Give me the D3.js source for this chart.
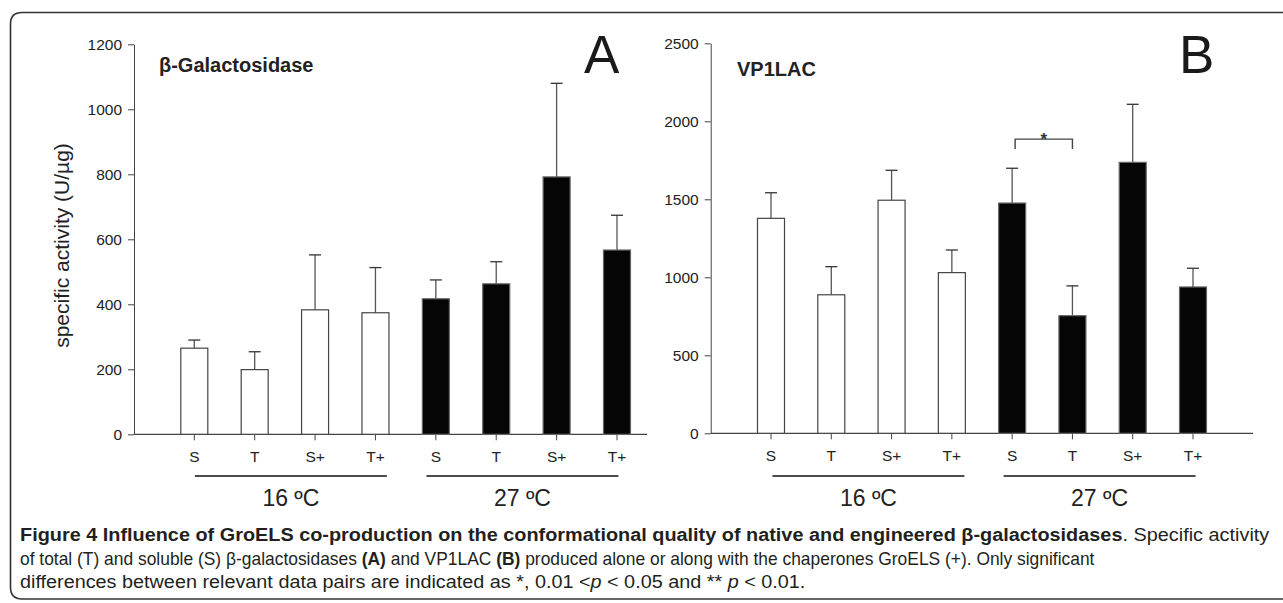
<!DOCTYPE html>
<html><head><meta charset="utf-8">
<script src="https://cdn.jsdelivr.net/npm/d3@7"></script>
<style>
html,body{margin:0;padding:0;background:#fff;}
svg{display:block;font-family:"Liberation Sans",Arial,Helvetica,sans-serif;}
</style></head>
<body><svg id="c" width="1283" height="603"></svg>
<script>
// ---- data ----
const categories = ["S","T","S+","T+","S","T","S+","T+"];
const groups = ["16 ºC","27 ºC"];
const galMean = [265,199,383,374,417,463,792,567];
const galUpper = [290,254,552,513,475,531,1080,674];
const vpMean = [1378,888,1494,1030,1476,754,1737,938];
const vpUpper = [1542,1068,1686,1175,1699,945,2109,1058];
const galTicks = [0,200,400,600,800,1000,1200];
const vpTicks = [0,500,1000,1500,2000,2500];
const vpSignif = [{a:4,b:5,top:1886,leg:1822,label:"*"}];

const svg = d3.select("#c");

// frame
svg.append("path")
  .attr("d","M1295,12.5 H22 Q10.5,12.5 10.5,24 V587 Q10.5,599 22,599 H1295")
  .attr("fill","none").attr("stroke","#333").attr("stroke-width",1.6);

function panel(o){
  const g = svg.append("g");
  const y = d3.scaleLinear().domain([0,o.ticks[o.ticks.length-1]]).range([o.y0,o.y1]);
  const x = d3.scalePoint().domain(d3.range(categories.length)).range([o.xFirst,o.xLast]);
  const bw = 27;
  const ya = g.append("g").attr("transform",`translate(${o.ax},0)`)
    .call(d3.axisLeft(y).tickValues(o.ticks).tickFormat(d3.format("d")).tickSize(6).tickPadding(6).tickSizeOuter(0));
  ya.select(".domain").attr("stroke","#444");
  ya.selectAll(".tick line").attr("stroke","#444");
  ya.selectAll("text").attr("font-size",15.5).attr("fill","#222").attr("font-family","Liberation Sans, Arial, sans-serif");
  g.append("line").attr("x1",o.ax).attr("x2",o.axEnd).attr("y1",o.y0).attr("y2",o.y0)
    .attr("stroke","#444").attr("stroke-width",1.3);
  g.selectAll(".xt").data(categories).enter().append("line")
    .attr("x1",(d,i)=>x(i)).attr("x2",(d,i)=>x(i)).attr("y1",o.y0).attr("y2",o.y0+6)
    .attr("stroke","#444");
  g.selectAll(".xl").data(categories).enter().append("text")
    .attr("x",(d,i)=>x(i)).attr("y",o.y0+28).attr("text-anchor","middle")
    .attr("font-size",15.5).attr("fill","#222").text(d=>d);
  const eb = g.selectAll(".eb").data(o.mean).enter().append("g");
  eb.append("line").attr("x1",(d,i)=>x(i)).attr("x2",(d,i)=>x(i))
    .attr("y1",d=>y(d)).attr("y2",(d,i)=>y(o.upper[i])).attr("stroke","#555").attr("stroke-width",1.3);
  eb.append("line").attr("x1",(d,i)=>x(i)-6).attr("x2",(d,i)=>x(i)+6)
    .attr("y1",(d,i)=>y(o.upper[i])).attr("y2",(d,i)=>y(o.upper[i])).attr("stroke","#333").attr("stroke-width",1.3);
  g.selectAll(".bar").data(o.mean).enter().append("rect")
    .attr("x",(d,i)=>x(i)-bw/2).attr("width",bw)
    .attr("y",d=>y(d)).attr("height",d=>o.y0-y(d))
    .attr("fill",(d,i)=>i<4?"#fff":"#050505")
    .attr("stroke",(d,i)=>i<4?"#444":"#666").attr("stroke-width",1.2);
  groups.forEach((lab,gi)=>{
    const c = (x(gi*4)+x(gi*4+3))/2 + o.gOff[gi];
    g.append("line").attr("x1",c-96).attr("x2",c+96).attr("y1",476).attr("y2",476)
      .attr("stroke","#111").attr("stroke-width",1.4);
    g.append("text").attr("x",c).attr("y",506).attr("text-anchor","middle")
      .attr("font-size",23).attr("fill","#222").text(lab);
  });
  g.append("text").attr("x",o.titleX).attr("y",o.titleY).attr("font-size",20)
    .attr("font-weight","bold").attr("fill","#222").text(o.title);
  g.append("text").attr("x",o.letterX).attr("y",73).attr("font-size",53)
    .attr("fill","#1a1a1a").text(o.letter);
  (o.signif||[]).forEach(s=>{
    const xa = x(s.a)+3, xb = x(s.b);
    g.append("path").attr("d",`M${xa},${y(s.leg)} V${y(s.top)} H${xb} V${y(s.leg)}`)
      .attr("fill","none").attr("stroke","#444").attr("stroke-width",1.4);
    g.append("text").attr("x",(xa+xb)/2).attr("y",y(s.top)+6).attr("text-anchor","middle")
      .attr("font-size",17).attr("font-weight","bold").attr("fill","#333").text(s.label);
  });
  return g;
}

panel({ticks:galTicks,mean:galMean,upper:galUpper,y0:434.3,y1:44.3,ax:134,axEnd:647,
  xFirst:194.3,xLast:617,gOff:[6,-4],title:"β-Galactosidase",titleX:159,titleY:72,letter:"A",letterX:584});
panel({ticks:vpTicks,mean:vpMean,upper:vpUpper,y0:433.3,y1:43.3,ax:710.7,axEnd:1253,
  xFirst:771,xLast:1193,gOff:[7,-3],title:"VP1LAC",titleX:737,titleY:76,letter:"B",letterX:1179,signif:vpSignif});

svg.append("text").attr("transform","translate(69,245.5) rotate(-90)")
  .attr("text-anchor","middle").attr("font-size",21).attr("fill","#222")
  .text("specific activity (U/µg)");

// caption: each line horizontally scaled to the reference line width
const cap = svg.append("g").attr("font-family","'Liberation Sans',Arial,sans-serif")
  .attr("fill","#231f20").attr("font-size",18.5);
function capLine(yPos, target, parts){
  const t = cap.append("text").attr("x",0).attr("y",0);
  parts.forEach(p=>{
    const s = t.append("tspan").text(p.t);
    if(p.b) s.attr("font-weight","bold");
    if(p.i) s.attr("font-style","italic");
  });
  const w = t.node().getComputedTextLength();
  t.attr("transform",`translate(20,${yPos}) scale(${target/w},1)`);
}
capLine(541,1250,[{t:"Figure 4 Influence of GroELS co-production on the conformational quality of native and engineered β-galactosidases",b:1},{t:". Specific activity"}]);
capLine(565,1075,[{t:"of total (T) and soluble (S) β-galactosidases "},{t:"(A)",b:1},{t:" and VP1LAC "},{t:"(B)",b:1},{t:" produced alone or along with the chaperones GroELS (+). Only significant"}]);
capLine(588,786,[{t:"differences between relevant data pairs are indicated as *, 0.01 <"},{t:"p",i:1},{t:" < 0.05 and ** "},{t:"p",i:1},{t:" < 0.01."}]);
</script></body></html>
